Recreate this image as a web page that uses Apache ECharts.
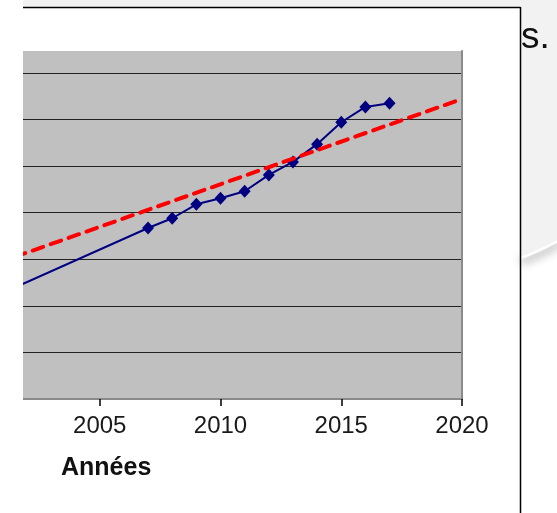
<!DOCTYPE html>
<html>
<head>
<meta charset="utf-8">
<script src="https://cdn.jsdelivr.net/npm/echarts@6/dist/echarts.min.js"></script>
<style>
html,body{margin:0;padding:0;background:#fff;}
#c{width:557px;height:513px;}
</style>
</head>
<body>
<div id="c"></div>
<script>
// ---- data ----
var years = [2007, 2008, 2009, 2010, 2011, 2012, 2013, 2014, 2015, 2016, 2017];
var values = [3.67, 3.88, 4.18, 4.31, 4.46, 4.81, 5.09, 5.47, 5.94, 6.27, 6.35];
var earlyYears = [2000, 2007];
var earlyValues = [2.05, 3.67];
var trendYears = [2000, 2020];
var trendValues = [2.78, 6.44];
var xMin = 2000, xMax = 2020, xStep = 5;
var yMin = 0, yMax = 7.47, yStep = 1;
var axisTitle = 'Années';
var sideText = 's.';

function pairs(xs, ys) { return xs.map(function (x, i) { return [x, ys[i]]; }); }

// decorative backdrop to the right of the chart frame (arc of a large rounded shape)
var arcCx = 412, arcCy = -25, arcR = 302;
var arcPts = [];
for (var ax = 521; ax <= 560; ax += 1) {
  arcPts.push([ax, arcCy + Math.sqrt(arcR * arcR - (ax - arcCx) * (ax - arcCx))]);
}
var grayPoly = [[521, 0], [560, 0]].concat(arcPts.slice().reverse());

var FONT = "'Liberation Sans', Arial, sans-serif";
var chart = echarts.init(document.getElementById('c'), null, {renderer: 'canvas'});
chart.setOption({
  animation: false,
  title: {
    text: axisTitle, left: 61, top: 456, padding: 0,
    textStyle: {fontFamily: FONT, fontSize: 25, fontWeight: 'bold', color: '#111'}
  },
  graphic: [
    {type: 'polyline', shape: {points: arcPts}, style: {stroke: '#ffffff', lineWidth: 5, fill: null,
      shadowBlur: 10, shadowOffsetY: 5, shadowColor: 'rgba(0,0,0,0.35)'}},
    {type: 'polygon', shape: {points: grayPoly}, style: {fill: '#f2f2f2'}},
    {type: 'rect', shape: {x: 23, y: 0, width: 534, height: 7}, style: {fill: '#f2f2f2'}},
    {type: 'line', shape: {x1: 23, y1: 7.5, x2: 520.5, y2: 7.5}, style: {stroke: '#000', lineWidth: 1.5}},
    {type: 'line', shape: {x1: 520.5, y1: 7, x2: 520.5, y2: 520}, style: {stroke: '#000', lineWidth: 1.5}},
    {type: 'rect', z: 100, shape: {x: 0, y: 0, width: 23, height: 513}, style: {fill: '#ffffff'}},
    {type: 'text', z: 100, x: 521, y: 38, style: {text: sideText, fontFamily: FONT, fontSize: 37, fill: '#111', verticalAlign: 'middle'}}
  ],
  grid: {left: -21, right: 95, top: 51, bottom: 114, outerBoundsMode: 'none', containLabel: false,
    show: true, backgroundColor: '#c0c0c0', borderWidth: 0},
  xAxis: [{
    type: 'value', min: xMin, max: xMax, interval: xStep, position: 'bottom',
    axisLine: {show: true, onZero: false, lineStyle: {color: '#444', width: 2}},
    axisTick: {show: true, inside: false, length: 7, lineStyle: {color: '#000', width: 1.5}},
    axisLabel: {show: true, margin: 15, fontFamily: FONT, fontSize: 24, color: '#1a1a1a',
      formatter: function (v) { return String(v); }},
    splitLine: {show: false}
  }, {
    type: 'value', min: xMin, max: xMax, position: 'top',
    axisLine: {show: true, lineStyle: {color: '#8a8a8a', width: 2}},
    axisTick: {show: false}, axisLabel: {show: false}, splitLine: {show: false}
  }],
  yAxis: [{
    type: 'value', min: yMin, max: yMax, interval: yStep, position: 'left',
    axisLine: {show: false}, axisTick: {show: false}, axisLabel: {show: false},
    splitLine: {show: true, showMinLine: false, showMaxLine: false, lineStyle: {color: '#222', width: 1}}
  }, {
    type: 'value', min: yMin, max: yMax, position: 'right',
    axisLine: {show: true, lineStyle: {color: '#8a8a8a', width: 2}},
    axisTick: {show: false}, axisLabel: {show: false}, splitLine: {show: false}
  }],
  series: [{
    type: 'line', data: pairs(earlyYears, earlyValues), showSymbol: false, symbol: 'none',
    lineStyle: {color: '#000080', width: 2}, clip: true, z: 3
  }, {
    type: 'line', data: pairs(years, values), symbol: 'diamond', symbolSize: [12, 13],
    itemStyle: {color: '#000080'}, lineStyle: {color: '#000080', width: 2}, z: 4
  }, {
    type: 'line', data: pairs(trendYears, trendValues), symbol: 'none',
    lineStyle: {color: '#ff0000', width: 4, type: [11, 8], cap: 'round'}, clip: true, z: 5
  }]
});
</script>
</body>
</html>
